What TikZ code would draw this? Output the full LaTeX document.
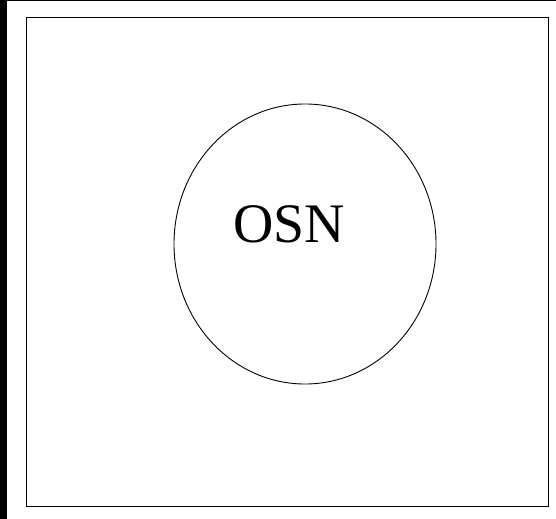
\documentclass[tikz,border=0pt]{standalone}
\usepackage{fontspec}
\setmainfont{Liberation Serif}
\usetikzlibrary{calc}

\begin{document}
\begin{tikzpicture}[x=1bp,y=-1bp,
		frame/.style={draw=black,line width=1bp},
		ring/.style={draw=black,line width=0.9bp},
		label/.style={font=\fontsize{56}{60}\selectfont,inner sep=0pt,anchor=base}]
				\useasboundingbox (0,0) rectangle (556,519);
				%edges
				\fill[black] (0,0) rectangle (7,519);
				\fill[black] (0,0) rectangle (556,1);
				%outer box
				\coordinate (tl) at (26,18);
				\coordinate (br) at (548,506);
				\draw[frame] (tl) rectangle (br);
				%circle
				\coordinate (c) at (305,244);
				\draw[ring] (c) ellipse[x radius=131,y radius=140];
				\node[label] (osn) at (289,242) {OSN};
			\end{tikzpicture}
\end{document}
